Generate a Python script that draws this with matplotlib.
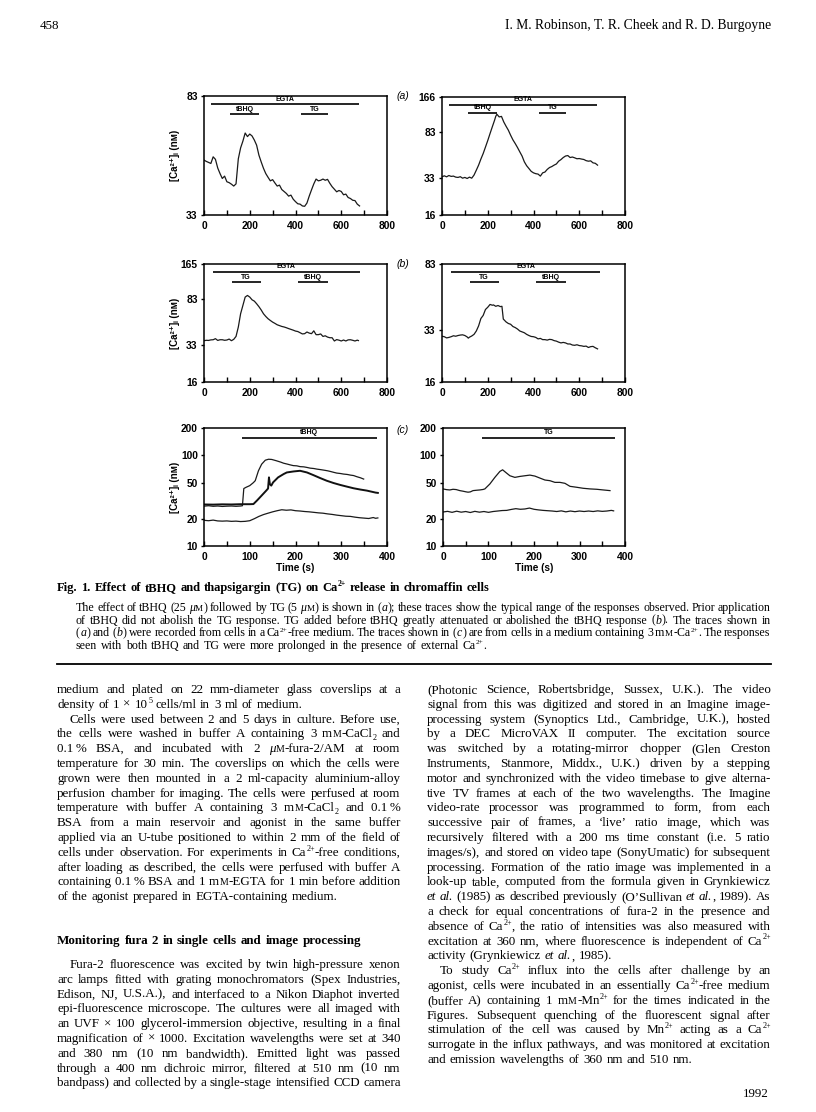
import matplotlib
matplotlib.use("Agg")
import matplotlib.pyplot as plt
from matplotlib.lines import Line2D
from matplotlib.ticker import FixedLocator, FixedFormatter, MultipleLocator, NullLocator

W, H = 816, 1112
SERIF = ["Liberation Serif", "DejaVu Serif"]
SANS = ["Liberation Sans", "DejaVu Sans"]
plt.rcParams["font.family"] = SANS
plt.rcParams["font.weight"] = "bold"

# ---------------- traces: [Ca2+]i (nM) against time (s) ----------------
# (a) left: EGTA, tBHQ then TG
a1_t = [0, 10, 20, 30, 40, 50, 60, 70, 80, 90, 100, 110, 120, 130, 140, 150, 160, 170,
        180, 190, 200, 210, 220, 230, 240, 250, 260, 270, 280, 290, 300, 310, 320, 330,
        340, 350, 360, 370, 380, 390, 400, 410, 420, 430, 440, 450, 460, 470, 480, 490,
        500, 510, 520, 530, 540, 550, 560, 570, 580, 590, 600, 610, 620, 630, 640, 650,
        660, 670, 680]
a1_ca = [50.5, 50.0, 49.6, 49.2, 51.8, 50.8, 47.5, 45.5, 43.8, 44.6, 42.7, 42.4, 41.9,
         41.3, 42.0, 51.0, 55.5, 58.5, 62.3, 60.6, 61.8, 60.9, 59.0, 56.7, 52.5, 49.8,
         47.4, 45.5, 44.2, 43.0, 43.4, 42.3, 41.3, 41.6, 40.2, 39.6, 39.0, 38.2, 38.5,
         37.3, 36.6, 36.0, 35.9, 35.4, 35.3, 36.2, 38.2, 40.1, 42.0, 43.6, 43.0, 43.2,
         43.6, 43.2, 43.5, 42.2, 41.1, 40.3, 39.5, 39.9, 39.6, 38.6, 38.8, 37.8, 37.5,
         37.0, 36.9, 35.9, 35.4]

# (a) right
a2_t = [0, 10, 20, 30, 40, 50, 60, 70, 80, 90, 100, 110, 120, 130, 140, 150, 160, 170,
        180, 190, 200, 210, 220, 230, 235, 240, 250, 260, 270, 280, 290, 300, 310, 320,
        330, 340, 350, 360, 370, 380, 390, 400, 410, 420, 430, 440, 450, 460, 470, 480,
        490, 500, 510, 520, 530, 540, 550, 560, 570, 580, 590, 600, 610, 620, 630, 640,
        650, 660, 670, 680]
a2_ca = [34.1, 34.8, 34.1, 35.0, 34.4, 34.6, 33.9, 33.7, 34.2, 33.2, 33.7, 33.0, 33.9,
         33.2, 35.3, 38.9, 43.0, 48.5, 54.1, 61.5, 70.0, 80.4, 92.0, 105.0, 113.2, 117.9,
         111.8, 113.0, 101.2, 93.0, 86.0, 77.8, 71.0, 66.0, 61.0, 56.0, 51.5, 45.9, 42.5,
         40.2, 38.0, 36.9, 36.3, 36.0, 34.6, 36.9, 37.5, 39.5, 41.0, 41.8, 43.0, 44.0,
         46.5, 48.0, 50.0, 51.5, 52.0, 50.0, 50.5, 49.7, 48.8, 49.0, 48.5, 48.1, 47.0,
         46.5, 46.8, 45.0, 44.6, 43.0]

# (b) left: EGTA, TG then tBHQ
b1_t = [0, 10, 20, 30, 40, 50, 60, 70, 80, 90, 100, 110, 120, 130, 140, 150, 160, 170,
        180, 190, 200, 210, 220, 230, 240, 250, 260, 270, 280, 290, 300, 310, 320, 330,
        340, 350, 360, 370, 380, 390, 400, 410, 420, 430, 440, 450, 460, 470, 480, 490,
        500, 510, 520, 530, 540, 550, 560, 570, 580, 590, 600, 610, 620, 630, 640, 650,
        660, 670, 675]
b1_ca = [36.2, 36.5, 36.4, 36.8, 36.9, 37.7, 36.4, 36.9, 36.9, 36.5, 36.7, 37.4, 36.2,
         37.2, 39.4, 47.4, 61.7, 72.7, 85.8, 88.6, 85.8, 81.3, 79.2, 75.2, 71.0, 66.5,
         61.7, 58.5, 55.9, 54.0, 52.3, 51.0, 49.6, 48.8, 48.0, 47.5, 46.8, 46.0, 45.3,
         44.6, 43.8, 43.4, 42.4, 41.4, 41.6, 43.0, 42.1, 41.6, 44.0, 40.8, 40.8, 41.4,
         39.4, 39.9, 38.9, 38.4, 38.4, 36.0, 37.0, 36.6, 36.0, 36.7, 36.0, 36.8, 36.9,
         36.5, 36.0, 36.6, 36.3]

# (b) right
b2_t = [0, 10, 20, 30, 40, 50, 60, 70, 80, 90, 100, 110, 115, 120, 130, 140, 150, 160,
        170, 180, 190, 200, 210, 220, 225, 235, 245, 255, 262, 268, 280, 290, 300, 310,
        320, 330, 340, 350, 360, 370, 380, 390, 400, 410, 420, 430, 440, 450, 460, 470,
        480, 490, 500, 510, 520, 530, 540, 550, 560, 570, 580, 590, 600, 610, 620, 630,
        640, 650, 660, 670, 680]
b2_ca = [30.3, 30.1, 29.6, 29.8, 30.1, 30.5, 30.3, 30.6, 30.8, 30.9, 30.6, 30.0, 29.5,
         29.9, 30.4, 31.1, 32.6, 35.0, 38.8, 40.5, 44.0, 45.4, 47.2, 46.7, 46.9, 46.0,
         46.5, 45.8, 46.0, 38.5, 37.0, 36.2, 35.8, 34.7, 34.2, 33.5, 32.6, 32.2, 31.8,
         31.1, 30.6, 30.2, 30.1, 29.8, 29.2, 29.4, 28.9, 28.9, 28.7, 29.0, 28.9, 28.5,
         28.3, 27.9, 27.6, 27.8, 27.6, 27.2, 27.2, 26.8, 26.7, 26.9, 26.6, 26.5, 26.3,
         26.4, 25.9, 26.2, 26.3, 25.8, 25.4]

# (c) left: tBHQ with external Ca2+, three cells
c1_t_top = [0, 10, 20, 30, 40, 50, 60, 70, 80, 84, 87, 92, 100, 108, 112, 119, 126, 134,
            141, 148, 155, 159, 168, 174, 182, 188, 195, 203, 210, 218, 225, 232, 240,
            247, 255, 262, 270, 276, 283, 290, 298, 305, 313, 320, 327, 334, 342, 349]
c1_ca_top = [27.5, 27.8, 27.4, 27.6, 27.3, 27.5, 27.6, 27.4, 27.6, 27.8, 43.0, 44.4,
             46.3, 50.0, 52.5, 67.5, 79.8, 88.3, 90.5, 90.0, 88.0, 86.8, 84.0, 81.8,
             80.0, 78.5, 77.0, 76.5, 75.0, 74.6, 73.5, 72.2, 71.5, 70.4, 69.5, 68.6,
             67.5, 66.4, 65.0, 63.7, 63.0, 62.1, 61.5, 60.5, 59.8, 58.1, 56.5, 54.7]
c1_t_mid = [0, 20, 40, 60, 80, 100, 108, 116, 126, 136, 140, 142, 144, 147, 151, 162,
            174, 181, 196, 210, 225, 239, 254, 268, 283, 298, 312, 327, 342, 356, 375,
            380]
c1_ca_mid = [28.7, 28.6, 28.8, 28.7, 28.9, 28.9, 29.0, 31.8, 36.0, 40.8, 43.0, 57.1,
             48.0, 46.3, 50.3, 57.1, 62.1, 64.7, 66.4, 67.5, 64.7, 60.5, 56.1, 52.5,
             49.5, 47.1, 45.2, 43.3, 41.9, 40.8, 38.8, 38.5]
c1_t_low = [0, 10, 20, 30, 40, 50, 60, 70, 80, 90, 100, 110, 120, 130, 140, 150, 160,
            170, 180, 190, 200, 210, 220, 230, 240, 250, 260, 270, 280, 290, 300, 310,
            320, 330, 340, 350, 360, 370, 375, 380]
c1_ca_low = [19.2, 19.0, 19.3, 18.9, 18.8, 18.9, 18.7, 18.8, 18.6, 18.7, 19.0, 20.0,
             21.2, 22.2, 23.0, 23.8, 24.5, 25.1, 24.8, 25.0, 24.5, 24.3, 24.0, 23.8,
             23.5, 23.2, 23.0, 22.6, 22.3, 21.9, 21.6, 21.3, 21.2, 20.8, 20.5, 20.3,
             20.1, 20.6, 20.2, 20.4]

# (c) right: TG with external Ca2+, two cells
c2_t_top = [0, 8, 15, 22, 29, 37, 44, 50, 55, 60, 66, 74, 81, 88, 92, 103, 114, 125,
            131, 138, 147, 158, 169, 180, 191, 202, 213, 224, 235, 246, 257, 268, 279,
            294, 308, 323, 338, 352, 367]
c2_ca_top = [42.6, 41.8, 41.5, 42.2, 41.9, 40.8, 40.2, 39.6, 39.2, 39.5, 40.8, 41.2,
             41.5, 42.0, 42.6, 48.3, 57.1, 66.4, 69.2, 64.7, 59.5, 57.1, 58.5, 59.5,
             60.5, 59.0, 56.1, 53.4, 52.5, 50.3, 50.3, 49.1, 45.5, 44.4, 43.3, 42.6,
             42.2, 41.5, 40.8]
c2_t_low = [0, 10, 20, 30, 40, 50, 60, 70, 80, 90, 100, 110, 120, 130, 140, 150, 160,
            170, 180, 190, 200, 210, 220, 230, 240, 250, 260, 270, 280, 290, 300, 310,
            320, 330, 340, 350, 360, 370, 375]
c2_ca_low = [23.7, 24.1, 23.5, 24.2, 23.6, 24.0, 23.4, 24.1, 23.6, 24.0, 23.5, 24.0,
             24.3, 24.6, 24.7, 25.3, 25.8, 25.4, 25.6, 26.2, 25.4, 25.0, 24.7, 24.5,
             24.3, 24.0, 24.4, 23.8, 24.3, 23.9, 24.3, 24.0, 24.3, 24.0, 24.4, 24.1,
             24.3, 24.7, 24.4]

# drug application periods (s)
ab_egta = (30, 676)
a_tbhq, a_tg = (115, 240), (423, 543)
b_egta_l, b_egta_r = (40, 680), (40, 690)
b_tg, b_tbhq = (121, 247), (413, 542)
c_tbhq, c_tg = (82, 378), (86, 377)

# ---------------- page text ----------------
HEADER_LEFT = "458"
HEADER_RIGHT = "I. M. Robinson, T. R. Cheek and R. D. Burgoyne"
FOOTER = "1992"
CAPTION_TITLE = "Fig. 1. Effect of tBHQ and thapsigargin (TG) on Ca^[2+] release in chromaffin cells"
CAPTION = [
    "The effect of tBHQ (25 *μ*~[M]) followed by TG (5 *μ*~[M]) is shown in (*a*); these traces show the typical range of the responses observed. Prior application",
    "of tBHQ did not abolish the TG response. TG added before tBHQ greatly attenuated or abolished the tBHQ response (*b*). The traces shown in",
    "(*a*) and (*b*) were recorded from cells in a Ca^[2+]-free medium. The traces shown in (*c*) are from cells in a medium containing 3 m~[M]-Ca^[2+]. The responses",
    "seen with both tBHQ and TG were more prolonged in the presence of external Ca^[2+].",
]
LEFT_TOP = [
    ("medium and plated on 22 mm-diameter glass coverslips at a", 0, 1),
    ("density of 1 × 10^[5] cells/ml in 3 ml of medium.", 0, 0),
    ("Cells were used between 2 and 5 days in culture. Before use,", 1, 1),
    ("the cells were washed in buffer A containing 3 m~[M]-CaCl_[2] and", 0, 1),
    ("0.1\u2009% BSA, and incubated with 2 *μ*~[M]-fura-2/AM at room", 0, 1),
    ("temperature for 30 min. The coverslips on which the cells were", 0, 1),
    ("grown were then mounted in a 2 ml-capacity aluminium-alloy", 0, 1),
    ("perfusion chamber for imaging. The cells were perfused at room", 0, 1),
    ("temperature with buffer A containing 3 m~[M]-CaCl_[2] and 0.1\u2009%", 0, 1),
    ("BSA from a main reservoir and agonist in the same buffer", 0, 1),
    ("applied via an U-tube positioned to within 2 mm of the field of", 0, 1),
    ("cells under observation. For experiments in Ca^[2+]-free conditions,", 0, 1),
    ("after loading as described, the cells were perfused with buffer A", 0, 1),
    ("containing 0.1\u2009% BSA and 1 m~[M]-EGTA for 1 min before addition", 0, 1),
    ("of the agonist prepared in EGTA-containing medium.", 0, 0),
]
HEADING = "Monitoring fura 2 in single cells and image processing"
LEFT_BOTTOM = [
    ("Fura-2 fluorescence was excited by twin high-pressure xenon", 1, 1),
    ("arc lamps fitted with grating monochromators (Spex Industries,", 0, 1),
    ("Edison, NJ, U.S.A.), and interfaced to a Nikon Diaphot inverted", 0, 1),
    ("epi-fluorescence microscope. The cultures were all imaged with", 0, 1),
    ("an UVF × 100 glycerol-immersion objective, resulting in a final", 0, 1),
    ("magnification of × 1000. Excitation wavelengths were set at 340", 0, 1),
    ("and 380 nm (10 nm bandwidth). Emitted light was passed", 0, 1),
    ("through a 400 nm dichroic mirror, filtered at 510 nm (10 nm", 0, 1),
    ("bandpass) and collected by a single-stage intensified CCD camera", 0, 1),
]
RIGHT = [
    ("(Photonic Science, Robertsbridge, Sussex, U.K.). The video", 0, 1),
    ("signal from this was digitized and stored in an Imagine image-", 0, 1),
    ("processing system (Synoptics Ltd., Cambridge, U.K.), hosted", 0, 1),
    ("by a DEC MicroVAX II computer. The excitation source", 0, 1),
    ("was switched by a rotating-mirror chopper (Glen Creston", 0, 1),
    ("Instruments, Stanmore, Middx., U.K.) driven by a stepping", 0, 1),
    ("motor and synchronized with the video timebase to give alterna-", 0, 1),
    ("tive TV frames at each of the two wavelengths. The Imagine", 0, 1),
    ("video-rate processor was programmed to form, from each", 0, 1),
    ("successive pair of frames, a ‘live’ ratio image, which was", 0, 1),
    ("recursively filtered with a 200 ms time constant (i.e. 5 ratio", 0, 1),
    ("images/s), and stored on video tape (SonyUmatic) for subsequent", 0, 1),
    ("processing. Formation of the ratio image was implemented in a", 0, 1),
    ("look-up table, computed from the formula given in Grynkiewicz", 0, 1),
    ("*et* *al.* (1985) as described previously (O’Sullivan *et* *al.*, 1989). As", 0, 1),
    ("a check for equal concentrations of fura-2 in the presence and", 0, 1),
    ("absence of Ca^[2+], the ratio of intensities was also measured with", 0, 1),
    ("excitation at 360 nm, where fluorescence is independent of Ca^[2+]", 0, 1),
    ("activity (Grynkiewicz *et* *al.*, 1985).", 0, 0),
    ("To study Ca^[2+] influx into the cells after challenge by an", 1, 1),
    ("agonist, cells were incubated in an essentially Ca^[2+]-free medium", 0, 1),
    ("(buffer A) containing 1 m~[M]-Mn^[2+] for the times indicated in the", 0, 1),
    ("Figures. Subsequent quenching of the fluorescent signal after", 0, 1),
    ("stimulation of the cell was caused by Mn^[2+] acting as a Ca^[2+]", 0, 1),
    ("surrogate in the influx pathways, and was monitored at excitation", 0, 1),
    ("and emission wavelengths of 360 nm and 510 nm.", 0, 0),
]

fig = plt.figure(figsize=(W / 100, H / 100), dpi=100)
renderer = fig.canvas.get_renderer()


def parse(word):
    # '*' toggles italic, ^[..] superscript, _[..] subscript, ~[..] small caps
    segs, buf, italic, i = [], "", False, 0
    while i < len(word):
        c = word[i]
        if c == "*":
            if buf:
                segs.append((buf, italic, "n"))
                buf = ""
            italic = not italic
            i += 1
        elif c in "^_~" and word[i + 1:i + 2] == "[":
            if buf:
                segs.append((buf, italic, "n"))
                buf = ""
            j = word.index("]", i)
            segs.append((word[i + 2:j], italic, {"^": "sup", "_": "sub", "~": "sc"}[c]))
            i = j + 1
        else:
            buf += c
            i += 1
    if buf:
        segs.append((buf, italic, "n"))
    return segs


def build_word(word, size, weight):
    px = size * 100 / 72
    objs, total = [], 0.0
    for text, italic, kind in parse(word):
        s, dy, tail = size, 0.0, 0.4
        if kind == "sup":
            s, dy, tail = size * 0.62, 0.40 * px, -0.3
        elif kind == "sub":
            s, dy, tail = size * 0.62, -0.20 * px, 0.0
        elif kind == "sc":
            s = size * 0.76
        t = fig.text(0, 0, text, fontsize=s, family=SERIF, fontweight=weight,
                     fontstyle="italic" if italic else "normal", ha="left", va="baseline")
        objs.append((t, total, dy))
        total += t.get_window_extent(renderer).width + tail
    return objs, total


def text_line(text, x0, x1, y, size=9.4, weight="normal", justify=True):
    built = [build_word(w, size, weight) for w in text.split(" ")]
    natural = sum(b[1] for b in built)
    gap = 0.27 * size * 100 / 72
    if justify and len(built) > 1:
        gap = max((x1 - x0 - natural) / (len(built) - 1), 1.5)
    x = x0
    for objs, w in built:
        for t, off, dy in objs:
            t.set_position(((x + off) / W, 1 - (y - dy) / H))
        x += w + gap


def paragraph(lines, x0, x1, y0, step, indent=13, size=9.4):
    for k, (txt, ind, just) in enumerate(lines):
        text_line(txt, x0 + indent * ind, x1, y0 + k * step, size=size, justify=bool(just))


def panel(l, t, r, b, xmax, ylim, yticks, ylabels):
    ax = fig.add_axes([l / W, 1 - b / H, (r - l) / W, (b - t) / H])
    ax.set_yscale("log")
    ax.set_xlim(0, xmax)
    ax.set_ylim(*ylim)
    ax.yaxis.set_major_locator(FixedLocator(yticks))
    ax.yaxis.set_major_formatter(FixedFormatter(ylabels))
    ax.yaxis.set_minor_locator(NullLocator())
    ax.xaxis.set_major_locator(MultipleLocator(xmax / 4))
    ax.xaxis.set_minor_locator(MultipleLocator(xmax / 8))
    ax.tick_params(axis="x", which="both", direction="in", length=3.5, width=1.0,
                   pad=4, labelsize=7.4)
    ax.tick_params(axis="y", which="both", direction="out", length=2.5, width=1.0,
                   pad=2, labelsize=7.4)
    for s in ax.spines.values():
        s.set_linewidth(1.1)
    return ax


def bar(ax, span, yf, label):
    tr = ax.get_xaxis_transform()
    ax.plot(span, [yf, yf], transform=tr, color="black", lw=1.2, solid_capstyle="butt")
    ax.text(sum(span) / 2, yf + 0.015, label, transform=tr, ha="center", va="bottom",
            fontsize=5, fontweight="bold")


TRACE = dict(color="#1a1a1a", lw=0.9)

# (a)
ax = panel(204, 96, 387, 215, 800, (33, 83), [33, 83], ["33", "83"])
ax.plot(a1_t, a1_ca, **TRACE)
bar(ax, ab_egta, 0.93, "EGTA")
bar(ax, a_tbhq, 0.845, "tBHQ")
bar(ax, a_tg, 0.845, "TG")

ax = panel(442, 97, 625, 215, 800, (16, 166), [16, 33, 83, 166], ["16", "33", "83", "166"])
ax.plot(a2_t, a2_ca, **TRACE)
bar(ax, ab_egta, 0.93, "EGTA")
bar(ax, a_tbhq, 0.865, "tBHQ")
bar(ax, a_tg, 0.865, "TG")

# (b)
ax = panel(204, 264, 387, 382, 800, (16, 165), [16, 33, 83, 165], ["16", "33", "83", "165"])
ax.plot(b1_t, b1_ca, **TRACE)
bar(ax, b_egta_l, 0.93, "EGTA")
bar(ax, b_tg, 0.845, "TG")
bar(ax, b_tbhq, 0.845, "tBHQ")

ax = panel(442, 264, 625, 382, 800, (16, 83), [16, 33, 83], ["16", "33", "83"])
ax.plot(b2_t, b2_ca, **TRACE)
bar(ax, b_egta_r, 0.93, "EGTA")
bar(ax, b_tg, 0.845, "TG")
bar(ax, b_tbhq, 0.845, "tBHQ")

# (c)
cticks = [10, 20, 50, 100, 200]
ax = panel(204, 428, 387, 546, 400, (10, 200), cticks, [str(v) for v in cticks])
ax.plot(c1_t_top, c1_ca_top, **TRACE)
ax.plot(c1_t_mid, c1_ca_mid, color="#111111", lw=1.4)
ax.plot(c1_t_low, c1_ca_low, **TRACE)
bar(ax, c_tbhq, 0.915, "tBHQ")

ax = panel(443, 428, 625, 546, 400, (10, 200), cticks, [str(v) for v in cticks])
ax.plot(c2_t_top, c2_ca_top, **TRACE)
ax.plot(c2_t_low, c2_ca_low, **TRACE)
bar(ax, c_tg, 0.915, "TG")

for yc in (155.5, 323, 487):
    fig.text(175 / W, 1 - yc / H, "[Ca²⁺]ᵢ (nᴍ)", rotation=90, ha="center", va="center",
             fontsize=7, fontweight="bold")
for lab, yc in (("(a)", 96), ("(b)", 264), ("(c)", 430)):
    fig.text(397 / W, 1 - yc / H, lab, ha="left", va="center", fontsize=7.5,
             fontstyle="italic", fontweight="normal")
for xc in (295.5, 534):
    fig.text(xc / W, 1 - 568 / H, "Time (s)", ha="center", va="center", fontsize=7.2,
             fontweight="bold")

# ---------------- text blocks ----------------
fig.text(40 / W, 1 - 29 / H, HEADER_LEFT, family=SERIF, fontweight="normal",
         fontsize=9.4, ha="left", va="baseline")
fig.text(771 / W, 1 - 29 / H, HEADER_RIGHT, family=SERIF, fontweight="normal",
         fontsize=9.8, ha="right", va="baseline")
fig.text(769 / W, 1 - 1097 / H, FOOTER, family=SERIF, fontweight="normal",
         fontsize=9.4, ha="right", va="baseline")

text_line(CAPTION_TITLE, 57, 771, 591, size=9.0, weight="bold", justify=False)
for k, txt in enumerate(CAPTION):
    text_line(txt, 76, 771, 611 + k * 12.7, size=8.6, justify=k < len(CAPTION) - 1)
fig.add_artist(Line2D([57 / W, 771 / W], [1 - 664 / H] * 2, color="black", lw=1.3))

paragraph(LEFT_TOP, 57, 401, 693, 14.8)
text_line(HEADING, 57, 401, 944, size=9.4, weight="bold", justify=False)
paragraph(LEFT_BOTTOM, 57, 401, 968, 14.8)
paragraph(RIGHT, 427, 771, 693, 14.8)

fig.savefig("out.png", dpi=100, facecolor="white")
